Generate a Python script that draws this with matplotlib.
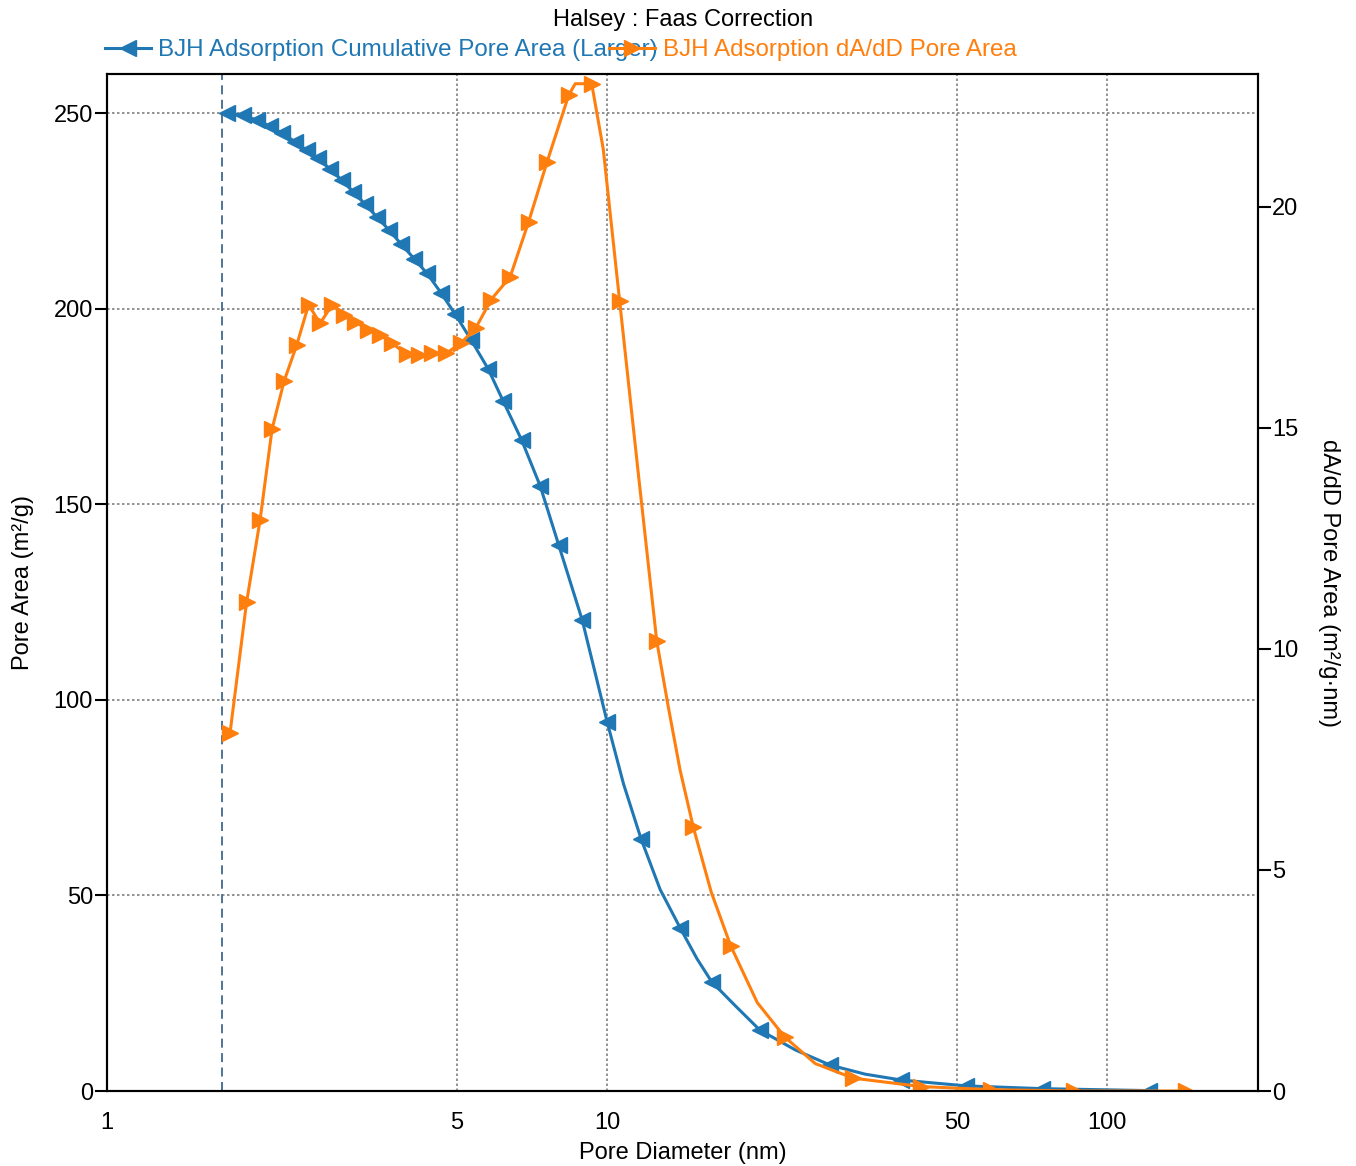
import matplotlib
matplotlib.use('Agg')
import matplotlib.pyplot as plt
import matplotlib.ticker as mticker

plt.rcParams['font.family'] = ['Liberation Sans', 'DejaVu Sans']
plt.rcParams['font.size'] = 17

# cumulative pore area (left axis), points drawn with a marker
cum_d = [1.738, 1.871, 1.995, 2.118, 2.239, 2.377, 2.506, 2.642, 2.793, 2.944,
         3.105, 3.281, 3.467, 3.664, 3.873, 4.111, 4.365, 4.656, 4.966, 5.346,
         5.781, 6.194, 6.745, 7.345, 7.998, 8.913, 10.0, 11.69, 13.99, 16.18,
         20.18, 27.93, 38.73, 52.24, 74.1, 121.3]
cum_area = [250.1, 249.4, 248.2, 246.6, 244.8, 242.7, 240.5, 238.4, 235.7, 232.9,
            229.9, 226.7, 223.4, 220.1, 216.5, 212.8, 209.0, 204.0, 198.6, 192.0,
            184.6, 176.4, 166.4, 154.7, 139.6, 120.4, 94.3, 64.4, 41.7, 27.9,
            15.6, 6.6, 2.8, 1.3, 0.6, 0.1]
# points on the line without a marker
cum_d_line = [10.78, 12.76, 15.12, 18.03, 23.77, 32.8]
cum_area_line = [78.5, 51.5, 33.8, 21.8, 10.5, 4.3]

# dA/dD pore area (right axis)
dad_d = [1.762, 1.901, 2.023, 2.138, 2.259, 2.393, 2.529, 2.667, 2.818, 2.972,
         3.133, 3.327, 3.516, 3.715, 3.972, 4.198, 4.467, 4.764, 5.093, 5.458,
         5.861, 6.397, 6.966, 7.586, 8.375, 9.311, 10.59, 12.56, 14.86,
         17.66, 22.65, 31.04, 42.46, 58.6, 85.9, 143.6]
dad_area = [8.10, 11.05, 12.91, 14.97, 16.05, 16.86, 17.78, 17.36, 17.78, 17.54,
            17.40, 17.22, 17.10, 16.91, 16.66, 16.64, 16.68, 16.68, 16.91, 17.25,
            17.90, 18.41, 19.66, 21.02, 22.52, 22.78, 17.86, 10.18, 5.97,
            3.28, 1.22, 0.29, 0.10, 0.03, 0.0, 0.0]
dad_d_line = [8.63, 9.82, 11.53, 13.24, 13.99, 16.14, 19.95, 26.06]
dad_area_line = [22.78, 21.3, 14.0, 8.7, 7.25, 4.5, 2.0, 0.62]

x_ticks = [1, 5, 10, 50, 100]
left_ticks = [0, 50, 100, 150, 200, 250]
right_ticks = [0, 5, 10, 15, 20]
min_pore = 1.7

blue = '#1f77b4'
orange = '#ff7f0e'


def merge(d, v, d_line, v_line):
    pts = sorted([(a, b, True) for a, b in zip(d, v)] +
                 [(a, b, False) for a, b in zip(d_line, v_line)])
    xs = [p[0] for p in pts]
    ys = [p[1] for p in pts]
    marks = [i for i, p in enumerate(pts) if p[2]]
    return xs, ys, marks


cx, cy, cm = merge(cum_d, cum_area, cum_d_line, cum_area_line)
dx, dy, dm = merge(dad_d, dad_area, dad_d_line, dad_area_line)

fig = plt.figure(figsize=(13.56, 11.66), dpi=100)
ax = fig.add_axes([107/1356, 75/1166, 1151/1356, 1017/1166])
ax2 = ax.twinx()

l1, = ax.plot(cx, cy, color=blue, lw=2.2, marker='<', ms=12, markevery=cm,
              label='BJH Adsorption Cumulative Pore Area (Larger)')
l2, = ax2.plot(dx, dy, color=orange, lw=2.2, marker='>', ms=12, markevery=dm,
               label='BJH Adsorption dA/dD Pore Area')
ax.axvline(min_pore, color='#41698c', ls=(0, (5, 3)), lw=1.3)

ax.set_xscale('log')
ax.set_xlim(1, 200)
ax.set_ylim(0, 260)
ax2.set_ylim(0, 23)
ax.xaxis.set_major_locator(mticker.FixedLocator(x_ticks))
ax.xaxis.set_major_formatter(mticker.FixedFormatter([str(t) for t in x_ticks]))
ax.xaxis.set_minor_locator(mticker.NullLocator())
ax.set_yticks(left_ticks)
ax2.set_yticks(right_ticks)

ax.grid(True, color='gray', ls=(0, (1.5, 1.5)), lw=1.2)
ax.tick_params(axis='x', length=0, pad=15)
ax.tick_params(axis='y', length=9, width=1.5, pad=1)
ax2.tick_params(axis='y', length=9, width=1.5, pad=1)
for a in (ax, ax2):
    for s in a.spines.values():
        s.set_linewidth(1.5)

ax.set_xlabel('Pore Diameter (nm)', labelpad=6)
ax.set_ylabel('Pore Area (m²/g)', labelpad=14)
ax2.set_ylabel('dA/dD Pore Area (m²/g·nm)', rotation=270, labelpad=30)

fig.text(0.5034, 1 - 20/1166, 'Halsey : Faas Correction', ha='center', va='center')
fig.legend(handles=[l1, l2], loc='center left', bbox_to_anchor=(105/1356, 1 - 50/1166),
           ncol=2, frameon=False, labelcolor='linecolor', handlelength=1.9,
           handletextpad=0.3, columnspacing=-2.0, borderpad=0, borderaxespad=0,
           prop={'size': 17.4})

fig.savefig('out.png', dpi=100)
